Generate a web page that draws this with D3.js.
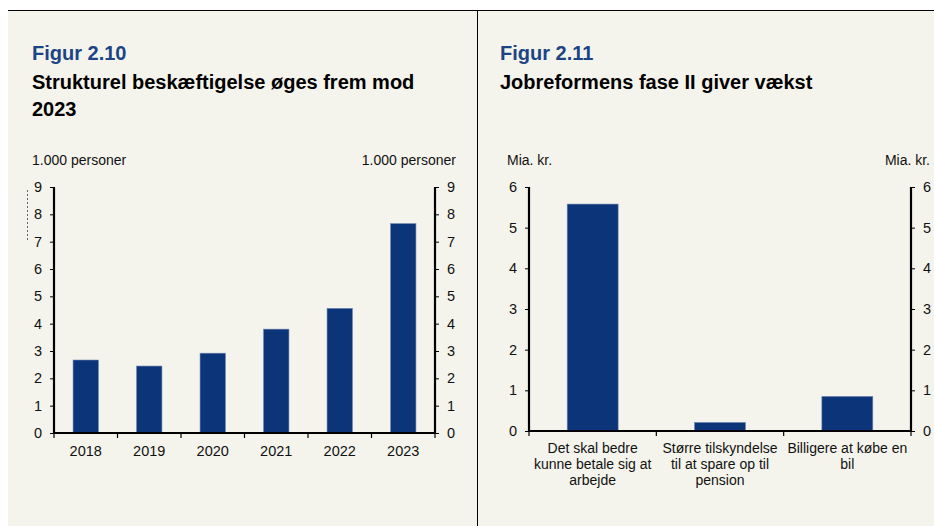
<!DOCTYPE html>
<html>
<head>
<meta charset="utf-8">
<script src="https://cdn.jsdelivr.net/npm/d3@7"></script>
<style>
  body { margin: 0; background: #fff; }
  svg { display: block; font-family: "Liberation Sans", Arial, sans-serif; }
</style>
</head>
<body>
<svg id="chart" width="934" height="526"></svg>
<script>
const years = ["2018", "2019", "2020", "2021", "2022", "2023"];
const employment = [2.67, 2.45, 2.92, 3.8, 4.56, 7.66];
const yTicksLeft = [0, 1, 2, 3, 4, 5, 6, 7, 8, 9];

const reforms = [
  ["Det skal bedre", "kunne betale sig at", "arbejde"],
  ["Større tilskyndelse", "til at spare op til", "pension"],
  ["Billigere at købe en", "bil"]
];
const reformValues = [5.58, 0.21, 0.85];
const yTicksRight = [0, 1, 2, 3, 4, 5, 6];

const bg = "#f5f4ec";
const barColor = "#0b3479";
const blue = "#1b4486";

const svg = d3.select("#chart");

// background panels
svg.append("rect").attr("x", 8).attr("y", 10).attr("width", 926).attr("height", 516).attr("fill", bg);
svg.append("line").attr("x1", 8).attr("x2", 934).attr("y1", 10.5).attr("y2", 10.5).attr("stroke", "#000").attr("stroke-width", 1);
svg.append("line").attr("x1", 477.5).attr("x2", 477.5).attr("y1", 10).attr("y2", 526).attr("stroke", "#000").attr("stroke-width", 1);

function panel(opt) {
  const g = svg.append("g");

  g.append("text").attr("x", opt.tx).attr("y", 60)
    .attr("font-size", 20).attr("font-weight", "bold").attr("fill", blue).text(opt.fig);
  opt.title.forEach((t, i) => {
    g.append("text").attr("x", opt.tx).attr("y", 89 + i * 27)
      .attr("font-size", 20).attr("font-weight", "bold").attr("fill", "#000").text(t);
  });

  g.append("text").attr("x", opt.ux).attr("y", 165).attr("font-size", 14).attr("fill", "#111").text(opt.unit);
  g.append("text").attr("x", opt.ux2).attr("y", 165).attr("font-size", 14).attr("fill", "#111")
    .attr("text-anchor", "end").text(opt.unit);

  const x = d3.scaleBand()
    .domain(d3.range(opt.values.length))
    .range([opt.x0, opt.x1])
    .paddingInner(0.6)
    .paddingOuter(0.3);

  const y = d3.scaleLinear().domain([0, opt.max]).range([opt.y0, opt.y1]);

  g.selectAll("rect.bar")
    .data(opt.values)
    .enter()
    .append("rect")
    .attr("class", "bar")
    .attr("x", (d, i) => x(i))
    .attr("y", d => y(d))
    .attr("width", x.bandwidth())
    .attr("height", d => y(0) - y(d))
    .attr("fill", barColor)
    .attr("stroke", "#6f86b0")
    .attr("stroke-width", 0.6);

  const left = g.append("g").attr("transform", `translate(${opt.x0},0)`)
    .call(d3.axisLeft(y).tickValues(opt.ticks).tickSize(4).tickPadding(8).tickFormat(d3.format("d")));
  const right = g.append("g").attr("transform", `translate(${opt.x1},0)`)
    .call(d3.axisRight(y).tickValues(opt.ticks).tickSize(4).tickPadding(8).tickFormat(d3.format("d")));
  [left, right].forEach(a => {
    a.select(".domain").attr("stroke", "#000").attr("stroke-width", 2.2).attr("d",
      `M0,${opt.y0}V${opt.y1}`);
    a.selectAll(".tick line").attr("stroke", "#000").attr("stroke-width", 1);
    a.selectAll(".tick text").attr("font-size", 14.5).attr("fill", "#111")
      .attr("font-family", "Liberation Sans, Arial, sans-serif");
  });

  // x baseline and category boundary ticks
  g.append("line").attr("x1", opt.x0).attr("x2", opt.x1).attr("y1", y(0)).attr("y2", y(0))
    .attr("stroke", "#000").attr("stroke-width", 2.2);
  const bounds = d3.range(opt.values.length + 1).map(i => opt.x0 + i * x.step());
  g.selectAll("line.bt").data(bounds).enter().append("line")
    .attr("x1", d => d).attr("x2", d => d).attr("y1", y(0)).attr("y2", y(0) + 5)
    .attr("stroke", "#000").attr("stroke-width", 1.2);

  opt.labels.forEach((lines, i) => {
    const lines2 = Array.isArray(lines) ? lines : [lines];
    lines2.forEach((t, j) => {
      g.append("text")
        .attr("x", x(i) + x.bandwidth() / 2)
        .attr("y", y(0) + opt.labelDy + j * 16)
        .attr("text-anchor", "middle")
        .attr("font-size", opt.labelSize).attr("fill", "#111").text(t);
    });
  });
}

panel({
  fig: "Figur 2.10",
  title: ["Strukturel beskæftigelse øges frem mod", "2023"],
  tx: 32, ux: 32, ux2: 456,
  unit: "1.000 personer",
  values: employment, labels: years, ticks: yTicksLeft, max: 9,
  x0: 54, x1: 435, y0: 433, y1: 187, labelDy: 23, labelSize: 14.5
});

panel({
  fig: "Figur 2.11",
  title: ["Jobreformens fase II giver vækst"],
  tx: 500, ux: 507, ux2: 930,
  unit: "Mia. kr.",
  values: reformValues, labels: reforms, ticks: yTicksRight, max: 6,
  x0: 529, x1: 911, y0: 431, y1: 187, labelDy: 22, labelSize: 14
});

// small dotted mark left of the first axis
svg.append("line").attr("x1", 27.5).attr("x2", 27.5).attr("y1", 190).attr("y2", 240)
  .attr("stroke", "#444").attr("stroke-width", 0.8).attr("stroke-dasharray", "2,2");
</script>
</body>
</html>
